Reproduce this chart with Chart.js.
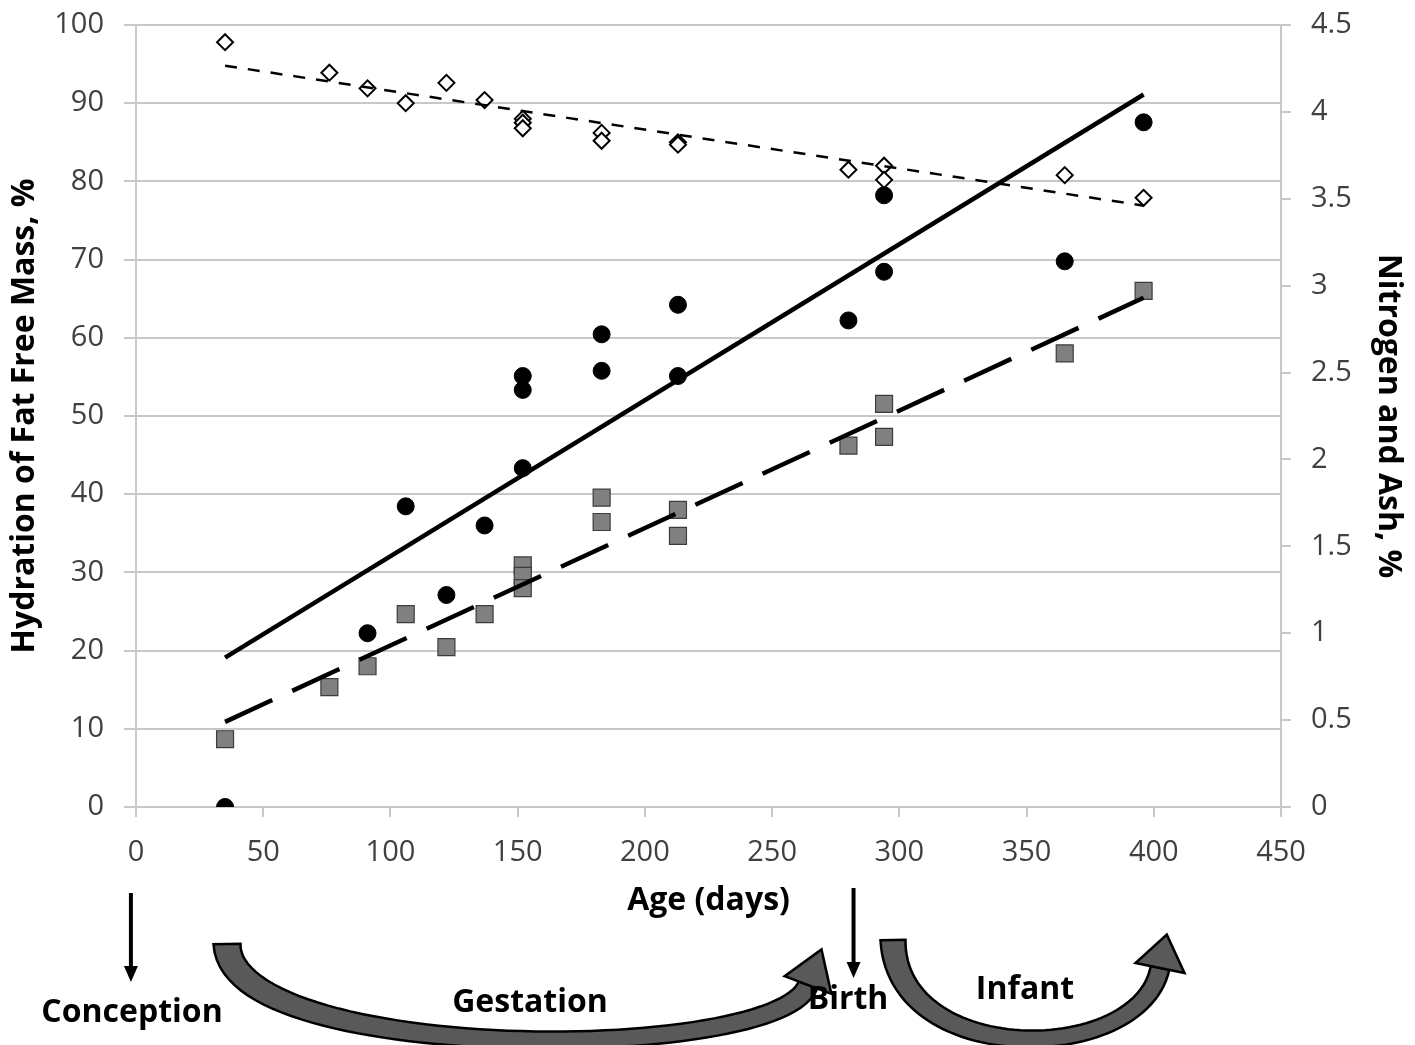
<!DOCTYPE html>
<html>
<head>
<meta charset="utf-8">
<script src="https://cdn.jsdelivr.net/npm/chart.js@4.4.1/dist/chart.umd.min.js"></script>
<style>
  html, body { margin: 0; padding: 0; background: #fff; }
  canvas { display: block; }
</style>
</head>
<body>
<canvas id="c" width="1415" height="1045"></canvas>
<script>
// ── Hydration (left axis, %) ─────────────────────────────────
const hydAge = [35, 76, 91, 106, 122, 137, 152, 152, 152, 183, 183, 213, 213, 280, 294, 294, 365, 396];
const hydration = [97.8, 93.9, 91.9, 90.0, 92.6, 90.4, 88.0, 87.5, 86.8, 86.2, 85.2, 85.0, 84.7, 81.5, 82.0, 80.2, 80.8, 77.9];

// ── Nitrogen (right axis, %) ─────────────────────────────────
const nitAge = [35, 91, 106, 122, 137, 152, 152, 152, 183, 183, 213, 213, 280, 294, 294, 365, 396];
const nitrogen = [0.00, 1.00, 1.73, 1.22, 1.62, 2.48, 2.40, 1.95, 2.72, 2.51, 2.89, 2.48, 2.80, 3.52, 3.08, 3.14, 3.94];

// ── Ash (right axis, %) ──────────────────────────────────────
const ashAge = [35, 76, 91, 106, 122, 137, 152, 152, 152, 183, 183, 213, 213, 280, 294, 294, 365, 396];
const ash = [0.39, 0.69, 0.81, 1.11, 0.92, 1.11, 1.39, 1.33, 1.26, 1.78, 1.64, 1.71, 1.56, 2.08, 2.32, 2.13, 2.61, 2.97];

// ── Linear trend lines (end points) ──────────────────────────
const trendAge = [35, 396];
const hydTrend = [94.8, 76.9];
const nitTrend = [0.86, 4.10];
const ashTrend = [0.49, 2.93];

// ── Axis ticks ───────────────────────────────────────────────
const xTicks = [0, 50, 100, 150, 200, 250, 300, 350, 400, 450];
const yLeftTicks = [0, 10, 20, 30, 40, 50, 60, 70, 80, 90, 100];
const yRightTicks = [0, 0.5, 1, 1.5, 2, 2.5, 3, 3.5, 4, 4.5];

const pts = (xs, ys) => xs.map((x, i) => ({ x, y: ys[i] }));

const FONT = '"Open Sans", "DejaVu Sans", sans-serif';
const GRID = '#c8c8c8';
const TICK = '#404040';

// ══════════════════════════════════════════════════════════════
// Bottom annotations: conception / gestation / birth / infant
// ══════════════════════════════════════════════════════════════
function downArrow(ctx, x, y0, y1) {
    ctx.strokeStyle = '#000';
    ctx.fillStyle = '#000';
    ctx.lineWidth = 4;
    ctx.beginPath();
    ctx.moveTo(x, y0);
    ctx.lineTo(x, y1 - 14);
    ctx.stroke();
    ctx.beginPath();
    ctx.moveTo(x - 7, y1 - 16);
    ctx.lineTo(x + 7, y1 - 16);
    ctx.lineTo(x, y1);
    ctx.closePath();
    ctx.fill();
}

// tapered band along a cubic bezier, then an arrow head on its end
function curvedArrow(ctx, p0, c1, c2, p3, w0, wm, w1, headLen, headW) {
    const bez = (t, a, b, c, d) => {
        const u = 1 - t;
        return u * u * u * a + 3 * u * u * t * b + 3 * u * t * t * c + t * t * t * d;
    };
    const der = (t, a, b, c, d) => {
        const u = 1 - t;
        return 3 * u * u * (b - a) + 6 * u * t * (c - b) + 3 * t * t * (d - c);
    };
    const left = [], right = [];
    const N = 60;
    for (let i = 0; i <= N; i++) {
        const t = i / N, u = 1 - t;
        const x = bez(t, p0[0], c1[0], c2[0], p3[0]);
        const y = bez(t, p0[1], c1[1], c2[1], p3[1]);
        let dx = der(t, p0[0], c1[0], c2[0], p3[0]);
        let dy = der(t, p0[1], c1[1], c2[1], p3[1]);
        const l = Math.hypot(dx, dy) || 1;
        dx /= l; dy /= l;
        const w = (w0 * u * u + 2 * wm * u * t + w1 * t * t) / 2;
        left.push([x - dy * w, y + dx * w]);
        right.push([x + dy * w, y - dx * w]);
    }
    ctx.beginPath();
    left.forEach((p, i) => i ? ctx.lineTo(p[0], p[1]) : ctx.moveTo(p[0], p[1]));
    right.reverse().forEach(p => ctx.lineTo(p[0], p[1]));
    ctx.closePath();
    ctx.fillStyle = '#595959';
    ctx.fill();
    ctx.strokeStyle = '#000';
    ctx.lineWidth = 2.5;
    ctx.lineJoin = 'miter';
    ctx.stroke();

    // head
    let dx = p3[0] - c2[0], dy = p3[1] - c2[1];
    const len = Math.hypot(dx, dy);
    dx /= len; dy /= len;
    const px = -dy, py = dx;
    ctx.beginPath();
    ctx.moveTo(p3[0] + px * headW, p3[1] + py * headW);
    ctx.lineTo(p3[0] + dx * headLen, p3[1] + dy * headLen);
    ctx.lineTo(p3[0] - px * headW, p3[1] - py * headW);
    ctx.closePath();
    ctx.fillStyle = '#595959';
    ctx.fill();
    ctx.stroke();
}

const annotations = {
    id: 'annotations',
    afterDraw(chart) {
        const ctx = chart.ctx;
        const xs = chart.scales.x;
        ctx.save();
        downArrow(ctx, xs.getPixelForValue(-2), 893, 982);
        downArrow(ctx, xs.getPixelForValue(282), 888, 978);
        curvedArrow(ctx, [227, 944], [230, 1065], [778, 1064], [808, 985], 27, 12, 20, 38, 25);
        curvedArrow(ctx, [893, 940], [896, 1068], [1140, 1066], [1160, 968], 25, 12, 19, 34, 25);

        ctx.fillStyle = '#000';
        ctx.font = `bold 32px ${FONT}`;
        ctx.textAlign = 'center';
        ctx.textBaseline = 'middle';
        ctx.fillText('Conception', 132, 1013);
        ctx.fillText('Gestation', 530, 1003);
        ctx.fillText('Birth', 848, 1000);
        ctx.fillText('Infant', 1025, 990);
        ctx.restore();
    }
};

const fitY = w => s => { s.width = w; s.paddingTop = 0; s.paddingBottom = 0; };

new Chart(document.getElementById('c'), {
    type: 'scatter',
    data: {
        datasets: [
            {
                label: 'Hydration trend', data: pts(trendAge, hydTrend), yAxisID: 'y',
                showLine: true, pointRadius: 0, borderColor: '#000', borderWidth: 2.5, borderDash: [12, 11],
            },
            {
                label: 'Nitrogen trend', data: pts(trendAge, nitTrend), yAxisID: 'y2',
                showLine: true, pointRadius: 0, borderColor: '#000', borderWidth: 4.5,
            },
            {
                label: 'Ash trend', data: pts(trendAge, ashTrend), yAxisID: 'y2',
                showLine: true, pointRadius: 0, borderColor: '#000', borderWidth: 4.5, borderDash: [52, 22],
            },
            {
                label: 'Hydration', data: pts(hydAge, hydration), yAxisID: 'y',
                pointStyle: 'rectRot', pointRadius: 8, pointBackgroundColor: '#fff',
                pointBorderColor: '#000', pointBorderWidth: 2,
            },
            {
                label: 'Nitrogen', data: pts(nitAge, nitrogen), yAxisID: 'y2',
                pointStyle: 'circle', pointRadius: 8.5, pointBackgroundColor: '#000',
                pointBorderColor: '#000', pointBorderWidth: 1,
            },
            {
                label: 'Ash', data: pts(ashAge, ash), yAxisID: 'y2',
                pointStyle: 'rect', pointRadius: 12, pointBackgroundColor: '#808080',
                pointBorderColor: '#3c3c3c', pointBorderWidth: 1.2,
            },
        ],
    },
    options: {
        responsive: false,
        animation: false,
        layout: { padding: { top: 25, left: 0, right: 0, bottom: 122 } },
        plugins: { legend: { display: false }, tooltip: { enabled: false } },
        scales: {
            x: {
                type: 'linear', min: 0, max: 450,
                afterBuildTicks: s => { s.ticks = xTicks.map(v => ({ value: v })); },
                afterFit: s => { s.height = 116; },
                grid: { drawOnChartArea: false, color: GRID, lineWidth: 2, tickLength: 10 },
                border: { color: GRID, width: 2 },
                ticks: { color: TICK, font: { family: FONT, size: 29 }, padding: 18, maxRotation: 0 },
                title: { display: true, text: 'Age (days)', color: '#000', font: { family: FONT, size: 32, weight: 'bold' }, padding: { top: 0, bottom: 3 } },
            },
            y: {
                position: 'left', min: 0, max: 100,
                afterBuildTicks: s => { s.ticks = yLeftTicks.map(v => ({ value: v })); },
                afterFit: fitY(136),
                grid: { color: GRID, lineWidth: 2, tickLength: 12 },
                border: { color: GRID, width: 2 },
                ticks: { color: TICK, font: { family: FONT, size: 29 }, padding: 20 },
                title: { display: true, text: 'Hydration of Fat Free Mass, %', color: '#000', font: { family: FONT, size: 32, weight: 'bold' }, padding: { top: 6, bottom: 0 } },
            },
            y2: {
                position: 'right', min: 0, max: 4.5,
                afterBuildTicks: s => { s.ticks = yRightTicks.map(v => ({ value: v })); },
                afterFit: fitY(134),
                grid: { drawOnChartArea: false, color: GRID, lineWidth: 2, tickLength: 10 },
                border: { color: GRID, width: 2 },
                ticks: { color: TICK, font: { family: FONT, size: 29 }, padding: 20, callback: v => String(v) },
                title: { display: true, text: 'Nitrogen and Ash, %', color: '#000', font: { family: FONT, size: 32, weight: 'bold' }, padding: { top: 8, bottom: 0 } },
            },
        },
    },
    plugins: [annotations],
});
</script>
</body>
</html>
